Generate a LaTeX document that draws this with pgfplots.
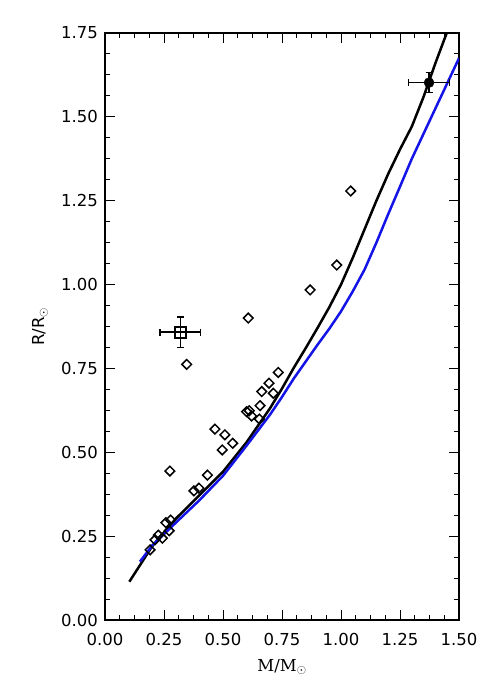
\documentclass[border=0pt]{standalone}
\usepackage{fontspec}
\setmainfont{DejaVu Sans}
\newfontfamily\serifx{DejaVu Serif}
\usepackage{pgfplots}
\pgfplotsset{compat=1.18}
\definecolor{myblue}{RGB}{20,20,230}
\begin{document}
\begin{tikzpicture}[x=1bp,y=1bp]
\useasboundingbox (-105,-67) rectangle (386,620);
\begin{axis}[
  at={(0,0)}, anchor=south west,
  scale only axis, width=354bp, height=587bp,
  xmin=0, xmax=1.5, ymin=0, ymax=1.75,
  xtick={0,0.25,0.5,0.75,1.0,1.25,1.5},
  ytick={0,0.25,0.5,0.75,1.0,1.25,1.5,1.75},
  minor x tick num=3, minor y tick num=3,
  tick align=inside,
  major tick length=10bp, minor tick length=5bp,
  every tick/.style={black, line width=1bp},
  axis line style={line width=1.2bp},
  /pgf/number format/assume math mode=true,
  /pgf/number format/fixed, /pgf/number format/fixed zerofill,
  /pgf/number format/precision=2,
  tick label style={font=\fontsize{16.5bp}{18bp}\selectfont},
  xticklabel style={inner sep=0pt, anchor=north, yshift=-13bp},
  yticklabel style={inner sep=0pt, anchor=east, xshift=-7bp},
  xlabel={\serifx M/M$_{\odot}$},
  ylabel={R/R$_{\odot}$},
  label style={font=\fontsize{16.5bp}{18bp}\selectfont},
  xlabel style={at={(axis description cs:0.5,-0.0801)}, anchor=center},
  ylabel style={at={(axis description cs:-0.1836,0.5)}, anchor=center},
]
% black model curve
\addplot[black, line width=2.5bp, mark=none] coordinates {
 (0.103,0.114) (0.2,0.22) (0.3,0.302) (0.4,0.372) (0.5,0.442) (0.6,0.53)
 (0.7,0.632) (0.75,0.69) (0.8,0.752) (0.85,0.81) (0.9,0.87) (0.95,0.932) (1.0,1.0)
 (1.05,1.08) (1.1,1.165) (1.15,1.25) (1.2,1.33)
 (1.25,1.403) (1.3,1.471) (1.35,1.56) (1.4,1.66) (1.448,1.75)
};
% blue model curve
\addplot[myblue, line width=2.5bp, mark=none] coordinates {
 (0.148,0.174) (0.2,0.222) (0.3,0.29) (0.4,0.357) (0.5,0.43) (0.6,0.52)
 (0.7,0.613) (0.75,0.665) (0.8,0.72) (0.85,0.77) (0.9,0.82) (0.95,0.868) (1.0,0.92)
 (1.05,0.98) (1.1,1.045) (1.15,1.125) (1.2,1.21) (1.25,1.292)
 (1.3,1.375) (1.4,1.525) (1.5,1.675)
};
% observed stars
\addplot[only marks, mark=square, mark size=3.4bp, mark options={black, fill=white, line width=1.5bp, rotate=45}] coordinates {
 (0.191,0.209) (0.212,0.239) (0.226,0.253) (0.243,0.244) (0.258,0.29)
 (0.278,0.298) (0.272,0.266) (0.275,0.444) (0.377,0.385) (0.398,0.393)
 (0.434,0.432) (0.497,0.507) (0.466,0.569) (0.508,0.552) (0.541,0.527)
 (0.600,0.621) (0.611,0.624) (0.621,0.608) (0.657,0.639) (0.654,0.599)
 (0.664,0.681) (0.695,0.706) (0.713,0.676) (0.734,0.738)
 (0.346,0.762) (0.607,0.900) (0.869,0.984) (0.982,1.058) (1.041,1.279)
};
% square with error bars
\addplot[only marks, mark=square, mark size=5.5bp, mark options={black, line width=2bp},
  error bars/.cd, x dir=both, x explicit, y dir=both, y explicit,
  error mark=-,
  error bar style={black, line width=1.4bp},
  error mark options={rotate=90, black, line width=1.4bp, mark size=3.5bp}]
  coordinates {(0.319,0.858) +- (0.086,0.045)};
% filled circle with error bars
\addplot[only marks, mark=*, mark size=5bp, mark options={black},
  error bars/.cd, x dir=both, x explicit, y dir=both, y explicit,
  error mark=-,
  error bar style={black, line width=1.4bp},
  error mark options={rotate=90, black, line width=1.4bp, mark size=3.5bp}]
  coordinates {(1.373,1.602) +- (0.087,0.03)};
\end{axis}
\end{tikzpicture}
\end{document}
